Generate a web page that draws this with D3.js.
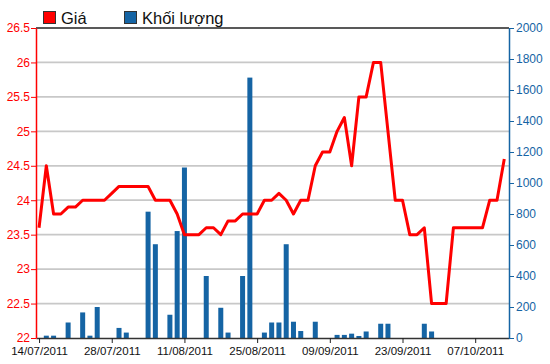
<!DOCTYPE html>
<html>
<head>
<meta charset="utf-8">
<script src="https://cdn.jsdelivr.net/npm/d3@7"></script>
<style>
  body { margin: 0; background: #fff; }
  text { font-family: "Liberation Sans", Arial, sans-serif; }
</style>
</head>
<body>
<div id="chart"></div>
<script>
// trading session prices (one per session)
var prices = [23.6, 24.5, 23.8, 23.8, 23.9, 23.9, 24.0, 24.0, 24.0, 24.0,
  24.1, 24.2, 24.2, 24.2, 24.2, 24.2, 24.0, 24.0, 24.0, 23.8,
  23.5, 23.5, 23.5, 23.6, 23.6, 23.5, 23.7, 23.7, 23.8, 23.8,
  23.8, 24.0, 24.0, 24.1, 24.0, 23.8, 24.0, 24.0, 24.5, 24.7,
  24.7, 25.0, 25.2, 24.5, 25.5, 25.5, 26.0, 26.0, 25.0, 24.0,
  24.0, 23.5, 23.5, 23.6, 22.5, 22.5, 22.5, 23.6, 23.6, 23.6,
  23.6, 23.6, 24.0, 24.0, 24.6];

var volumes = [0, 15, 15, 0, 100, 0, 165, 15, 200, 0,
  0, 65, 35, 0, 0, 815, 605, 0, 150, 690,
  1100, 0, 0, 400, 0, 195, 35, 0, 400, 1680,
  0, 35, 100, 100, 605, 105, 45, 0, 105, 0,
  0, 20, 20, 28, 13, 42, 0, 92, 92, 0,
  0, 0, 0, 92, 42, 0, 0, 0, 0, 0,
  0, 0, 0, 0, 0];

var tickIndex = [0, 10, 20, 30, 40, 50, 60];
var tickLabels = ["14/07/2011", "28/07/2011", "11/08/2011", "25/08/2011",
  "09/09/2011", "23/09/2011", "07/10/2011"];
var priceTicks = [22, 22.5, 23, 23.5, 24, 24.5, 25, 25.5, 26, 26.5];
var volumeTicks = [0, 200, 400, 600, 800, 1000, 1200, 1400, 1600, 1800, 2000];

var svgWidth = 550;
var svgHeight = 364;

var margin = { top: 28, right: 41, bottom: 26, left: 36 };
var width = svgWidth - margin.left - margin.right;
var height = svgHeight - margin.top - margin.bottom;

var redColor = "#ff0000";
var blueColor = "#1564a4";

var svg = d3.select("#chart")
  .append("svg")
  .attr("width", svgWidth)
  .attr("height", svgHeight);

var chartGroup = svg.append("g")
  .attr("transform", `translate(${margin.left}, ${margin.top})`);

// scales
var xScale = d3.scaleLinear()
  .domain([-0.42, prices.length - 0.35])
  .range([0, width]);

var yPrice = d3.scaleLinear()
  .domain([22, 26.5])
  .range([height, 0]);

var yVolume = d3.scaleLinear()
  .domain([0, 2000])
  .range([height, 0]);

// gridlines
chartGroup.append("g").selectAll("line")
  .data(priceTicks.filter(d => d > 22 && d < 26.5))
  .enter()
  .append("line")
  .attr("x1", 0)
  .attr("x2", width)
  .attr("y1", d => yPrice(d))
  .attr("y2", d => yPrice(d))
  .attr("stroke", "#c8c8c8")
  .attr("stroke-width", 1.8);

chartGroup.append("line")
  .attr("x1", 0)
  .attr("x2", width)
  .attr("y1", 0)
  .attr("y2", 0)
  .attr("stroke", "#222")
  .attr("stroke-width", 1.5);

// volume bars
var barWidth = 5;
chartGroup.append("g").selectAll("rect")
  .data(volumes.map((v, i) => ({ i: i, v: v })).filter(d => d.v > 0))
  .enter()
  .append("rect")
  .attr("x", d => xScale(d.i) - barWidth / 2)
  .attr("y", d => yVolume(d.v))
  .attr("width", barWidth)
  .attr("height", d => height - yVolume(d.v))
  .attr("fill", blueColor);

// price line
var priceLine = d3.line()
  .x((d, i) => xScale(i))
  .y(d => yPrice(d));

chartGroup.append("path")
  .datum(prices)
  .attr("d", priceLine)
  .attr("fill", "none")
  .attr("stroke", redColor)
  .attr("stroke-width", 3)
  .attr("stroke-linejoin", "round");

// axes
var bottomAxis = d3.axisBottom(xScale)
  .tickValues(tickIndex)
  .tickFormat((d, i) => tickLabels[i])
  .tickSize(5)
  .tickSizeOuter(0);

var xAxis = chartGroup.append("g")
  .attr("transform", `translate(0, ${height})`)
  .call(bottomAxis);
xAxis.select(".domain").attr("stroke", "#333").attr("stroke-width", 1.5);
xAxis.selectAll(".tick line").attr("stroke", "#222");
xAxis.selectAll("text")
  .attr("fill", "#111")
  .attr("y", 9)
  .style("font-size", "11.5px");

var leftAxis = d3.axisLeft(yPrice)
  .tickValues(priceTicks)
  .tickFormat(d => d)
  .tickSize(5)
  .tickSizeOuter(0);

var yAxisLeft = chartGroup.append("g")
  .call(leftAxis);
yAxisLeft.select(".domain").attr("stroke", redColor).attr("stroke-width", 1.5);
yAxisLeft.selectAll(".tick line").attr("stroke", redColor);
yAxisLeft.selectAll("text")
  .attr("fill", redColor)
  .attr("x", -6)
  .style("font-size", "12px");

var rightAxis = d3.axisRight(yVolume)
  .tickValues(volumeTicks)
  .tickFormat(d => d)
  .tickSize(5)
  .tickSizeOuter(0);

var yAxisRight = chartGroup.append("g")
  .attr("transform", `translate(${width}, 0)`)
  .call(rightAxis);
yAxisRight.select(".domain").attr("stroke", blueColor).attr("stroke-width", 1.5);
yAxisRight.selectAll(".tick line").attr("stroke", blueColor);
yAxisRight.selectAll("text")
  .attr("fill", blueColor)
  .attr("x", 7)
  .style("font-size", "12px");

// legend
var legend = svg.append("g");
var legendItems = [
  { label: "Giá", color: redColor, x: 43 },
  { label: "Khối lượng", color: blueColor, x: 124 }
];
legendItems.forEach(function(item) {
  legend.append("rect")
    .attr("x", item.x + 0.5)
    .attr("y", 11.5)
    .attr("width", 12)
    .attr("height", 12)
    .attr("fill", item.color)
    .attr("stroke", "#333")
    .attr("stroke-width", 1);
  legend.append("text")
    .attr("x", item.x + 18)
    .attr("y", 24)
    .attr("fill", "#111")
    .style("font-size", "16.5px")
    .text(item.label);
});
</script>
</body>
</html>
